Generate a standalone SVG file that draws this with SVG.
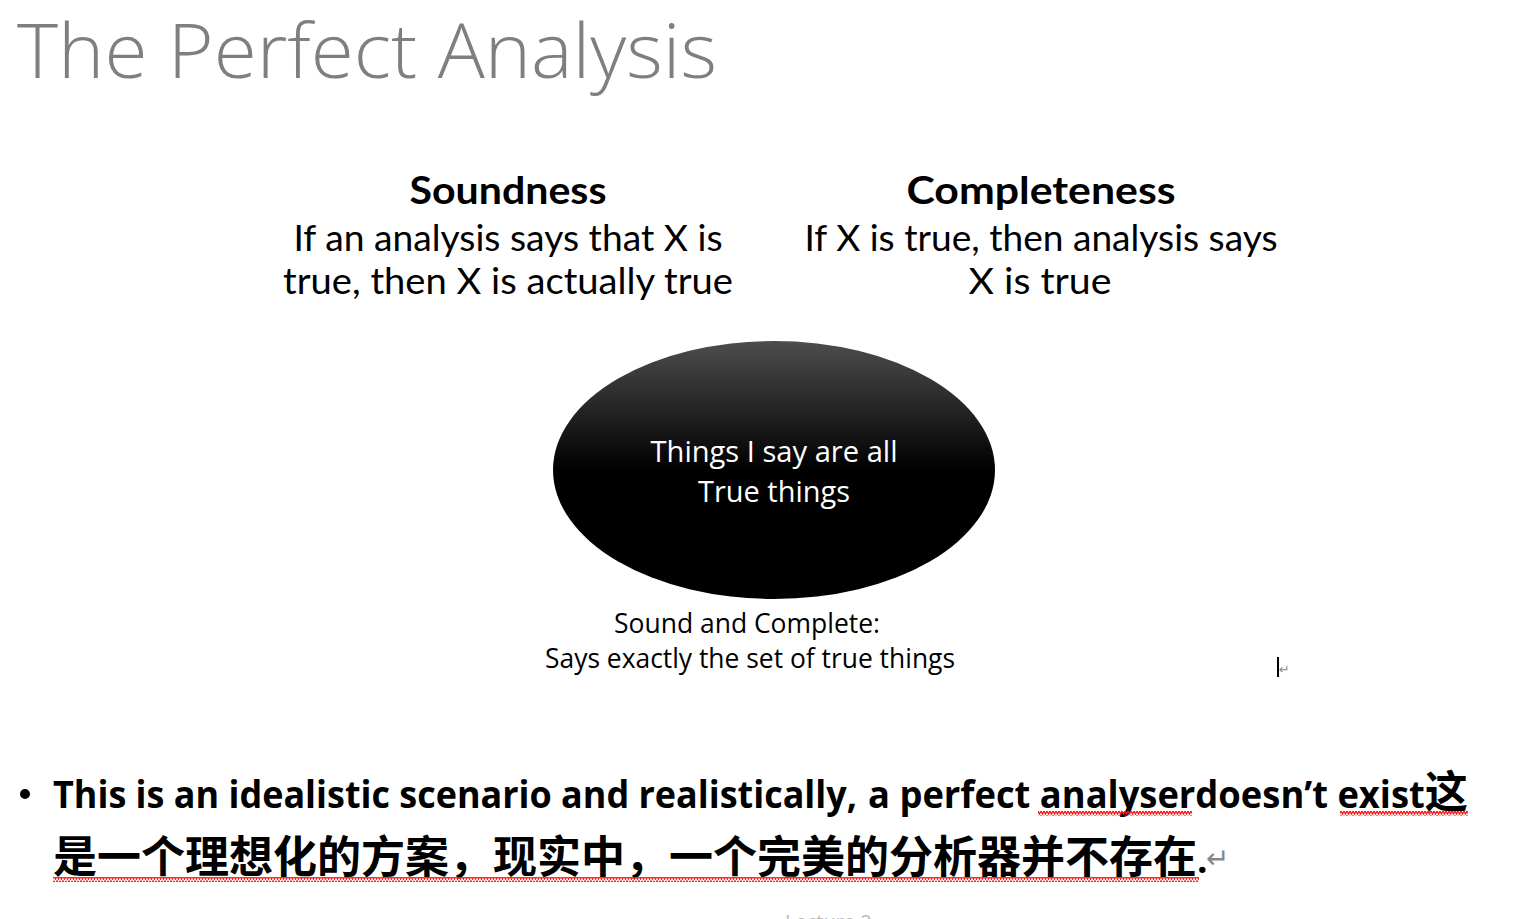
<svg xmlns="http://www.w3.org/2000/svg" width="1516" height="919" viewBox="0 0 1516 919">
<style>
.title{font-family:"Open Sans","Liberation Sans",sans-serif;font-weight:300;font-size:76px;fill:#7f7f7f}
.head{font-family:Lato,"Liberation Sans",sans-serif;font-weight:bold;font-size:38px;fill:#000;text-anchor:middle}
.body{font-family:Lato,"Liberation Sans",sans-serif;font-size:36px;fill:#000;text-anchor:middle}
.inner{font-family:"Open Sans","Liberation Sans",sans-serif;font-size:29px;fill:#fff;text-anchor:middle}
.cap{font-family:"Open Sans","Liberation Sans",sans-serif;font-size:27px;fill:#000;text-anchor:middle}
.en{font-family:"Open Sans","Liberation Sans",sans-serif;font-weight:bold;font-size:37px;fill:#000}
.cjk{font-family:"Noto Sans CJK SC",sans-serif;font-weight:bold;font-size:44px;fill:#000}
.mark{font-family:"DejaVu Sans",sans-serif;fill:#888}
</style>
<defs>
<linearGradient id="g" x1="0" y1="0" x2="0" y2="1">
<stop offset="0" stop-color="#4d4d4d"/>
<stop offset="0.5" stop-color="#000"/>
<stop offset="1" stop-color="#000"/>
</linearGradient>
<pattern id="sq" width="6" height="5" patternUnits="userSpaceOnUse">
<polyline points="0,0.8 1.5,4.2 3,0.8 4.5,4.2 6,0.8" fill="none" stroke="#ff1a1a" stroke-width="1.3"/>
</pattern>
</defs>
<rect width="1516" height="919" fill="#fff"/>
<g id="title">
<text class="title" x="17" y="78" textLength="700" lengthAdjust="spacingAndGlyphs">The Perfect Analysis</text>
</g>
<g id="soundness">
<text class="head" x="508" y="204" textLength="197" lengthAdjust="spacingAndGlyphs">Soundness</text>
<text class="body" x="508" y="251" textLength="429" lengthAdjust="spacingAndGlyphs">If an analysis says that X is</text>
<text class="body" x="508" y="294" textLength="450" lengthAdjust="spacingAndGlyphs">true, then X is actually true</text>
</g>
<g id="completeness">
<text class="head" x="1041" y="204" textLength="269" lengthAdjust="spacingAndGlyphs">Completeness</text>
<text class="body" x="1041" y="251" textLength="473" lengthAdjust="spacingAndGlyphs">If X is true, then analysis says</text>
<text class="body" x="1040" y="294" textLength="143" lengthAdjust="spacingAndGlyphs">X is true</text>
</g>
<g id="ellipse">
<ellipse cx="774" cy="470" rx="221" ry="129" fill="url(#g)"/>
<text class="inner" x="774" y="462" textLength="247" lengthAdjust="spacingAndGlyphs">Things I say are all</text>
<text class="inner" x="774" y="502" textLength="152" lengthAdjust="spacingAndGlyphs">True things</text>
</g>
<g id="caption">
<text class="cap" x="747" y="633" textLength="266" lengthAdjust="spacingAndGlyphs">Sound and Complete:</text>
<text class="cap" x="750" y="668" textLength="410" lengthAdjust="spacingAndGlyphs">Says exactly the set of true things</text>
<rect x="1277" y="657" width="2" height="20" fill="#000"/>
<text class="mark" x="1279" y="674" font-size="13">↵</text>
</g>
<g id="bullet">
<circle cx="25" cy="794" r="5" fill="#000"/>
<text class="en" x="53" y="808" textLength="804" lengthAdjust="spacingAndGlyphs">This is an idealistic scenario and realistically,</text>
<text class="en" x="868" y="808" textLength="600" lengthAdjust="spacingAndGlyphs">a perfect analyserdoesn’t exist<tspan class="cjk">这</tspan></text>
<text class="cjk" x="53" y="873" textLength="1144" lengthAdjust="spacingAndGlyphs">是一个理想化的方案，现实中，一个完美的分析器并不存在</text>
<text class="en" x="1197" y="873">.</text>
<text class="mark" x="1206" y="868" font-size="28">↵</text>
<rect x="1038" y="811" width="154" height="5" fill="url(#sq)"/>
<rect x="1340" y="811" width="128" height="5" fill="url(#sq)"/>
<rect x="53" y="877" width="1146" height="5" fill="url(#sq)"/>
</g>
<g id="footer">
<text x="785" y="929" font-family="'Open Sans','Liberation Sans',sans-serif" font-size="20" fill="#bbbbbb">Lecture 2</text>
</g>
</svg>
